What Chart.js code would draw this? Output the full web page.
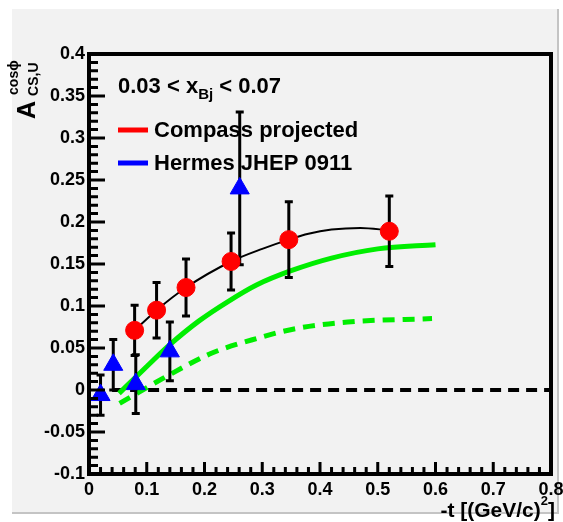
<!DOCTYPE html>
<html>
<head>
<meta charset="utf-8">
<script src="https://cdn.jsdelivr.net/npm/chart.js@4/dist/chart.umd.min.js"></script>
<style>
html, body { margin: 0; padding: 0; background: #ffffff; overflow: hidden; }
canvas { display: block; }
</style>
</head>
<body>
<canvas id="c" width="563" height="522" style="width:563px;height:522px"></canvas>
<script>
// COMPASS projection: -t [(GeV/c)^2], asymmetry, statistical error
const compassT    = [0.079, 0.117, 0.168, 0.246, 0.346, 0.520];
const compassA    = [0.071, 0.095, 0.122, 0.153, 0.179, 0.189];
const compassErr  = [0.030, 0.033, 0.034, 0.034, 0.045, 0.042];

// HERMES JHEP 0911 points
const hermesT     = [0.020, 0.042, 0.081, 0.140, 0.261];
const hermesA     = [-0.006, 0.030, 0.007, 0.046, 0.240];
const hermesErr   = [0.024, 0.030, 0.035, 0.035, 0.091];

// Fit through the COMPASS points (black curve)
const fitT        = [0.079, 0.117, 0.168, 0.246, 0.300, 0.346, 0.380, 0.420, 0.470, 0.520];
const fitA        = [0.071, 0.095, 0.122, 0.153, 0.168, 0.179, 0.186, 0.191, 0.193, 0.190];

// Model predictions (green solid and green dashed)
const modelT      = [0.052, 0.100, 0.140, 0.190, 0.240, 0.290, 0.350, 0.420, 0.500, 0.600];
const modelA      = [-0.004, 0.028, 0.054, 0.082, 0.105, 0.125, 0.142, 0.157, 0.168, 0.173];
const model2T     = [0.053, 0.139, 0.213, 0.294, 0.357, 0.448, 0.594];
const model2A     = [-0.016, 0.018, 0.044, 0.062, 0.073, 0.081, 0.085];

// Zero reference line
const zeroT       = [0.04, 0.80];
const zeroA       = [0, 0];

// Axis ticks
const xTicks      = [0, 0.1, 0.2, 0.3, 0.4, 0.5, 0.6, 0.7, 0.8];
const xTickLabels = ['0', '0.1', '0.2', '0.3', '0.4', '0.5', '0.6', '0.7', '0.8'];
const yTicks      = [-0.1, -0.05, 0, 0.05, 0.1, 0.15, 0.2, 0.25, 0.3, 0.35, 0.4];
const yTickLabels = ['-0.1', '-0.05', '0', '0.05', '0.1', '0.15', '0.2', '0.25', '0.3', '0.35', '0.4'];

const FONT = '"Liberation Sans", Arial, Helvetica, sans-serif';
const GREEN = '#00ee00';

const pts = (xs, ys) => xs.map((x, i) => ({ x: x, y: ys[i] }));

function drawErrorBars(chart, xs, ys, errs) {
  const ctx = chart.ctx;
  const sx = chart.scales.x, sy = chart.scales.y;
  ctx.save();
  ctx.strokeStyle = '#000';
  ctx.lineWidth = 3;
  ctx.lineCap = 'butt';
  xs.forEach((x, i) => {
    const px = sx.getPixelForValue(x);
    const top = sy.getPixelForValue(ys[i] + errs[i]);
    const bot = sy.getPixelForValue(ys[i] - errs[i]);
    ctx.beginPath();
    ctx.moveTo(px, top); ctx.lineTo(px, bot);
    ctx.moveTo(px - 4, top); ctx.lineTo(px + 4, top);
    ctx.moveTo(px - 4, bot); ctx.lineTo(px + 4, bot);
    ctx.stroke();
  });
  ctx.restore();
}

const decor = {
  id: 'decor',
  beforeDraw(chart) {
    const ctx = chart.ctx;
    ctx.save();
    ctx.fillStyle = '#ffffff';
    ctx.fillRect(0, 0, chart.width, chart.height);
    ctx.fillStyle = '#f2f2f2';
    ctx.fillRect(12, 9, 545, 503);
    ctx.fillStyle = '#c4c4c4';
    ctx.fillRect(557, 9, 2, 505);
    ctx.fillRect(12, 512, 547, 2);
    ctx.restore();
  },
  beforeDatasetDraw(chart, args) {
    if (args.index === 1) drawErrorBars(chart, hermesT, hermesA, hermesErr);
    if (args.index === 0) drawErrorBars(chart, compassT, compassA, compassErr);
  },
  afterDatasetsDraw(chart) {
    const ctx = chart.ctx;
    const a = chart.chartArea;
    const sx = chart.scales.x, sy = chart.scales.y;
    ctx.save();
    // frame
    ctx.strokeStyle = '#000';
    ctx.lineWidth = 4;
    ctx.strokeRect(a.left, a.top, a.right - a.left, a.bottom - a.top);
    // y tick marks (inside the frame)
    ctx.lineWidth = 3;
    ctx.beginPath();
    for (let k = 0; k <= 50; k++) {
      const v = -0.1 + k * 0.01;
      const py = sy.getPixelForValue(v);
      const len = (k % 5 === 0) ? 16 : 9;
      ctx.moveTo(a.left, py); ctx.lineTo(a.left + len, py);
    }
    // x tick marks
    for (let k = 0; k <= 40; k++) {
      const v = k * 0.02;
      const px = sx.getPixelForValue(v);
      const len = (k % 5 === 0) ? 12 : 7;
      ctx.moveTo(px, a.bottom); ctx.lineTo(px, a.bottom - len);
    }
    ctx.stroke();
    ctx.restore();
  },
  afterDraw(chart) {
    const ctx = chart.ctx;
    ctx.save();
    ctx.fillStyle = '#000';
    ctx.textBaseline = 'alphabetic';

    // kinematic range label
    let x = 118;
    ctx.font = 'bold 22px ' + FONT;
    ctx.fillText('0.03 < x', x, 93);
    x += ctx.measureText('0.03 < x').width;
    ctx.font = 'bold 15px ' + FONT;
    ctx.fillText('Bj', x, 99);
    x += ctx.measureText('Bj').width;
    ctx.font = 'bold 22px ' + FONT;
    ctx.fillText(' < 0.07', x, 93);

    // legend
    ctx.lineWidth = 5;
    ctx.strokeStyle = '#ff0000';
    ctx.beginPath(); ctx.moveTo(118, 130); ctx.lineTo(148, 130); ctx.stroke();
    ctx.strokeStyle = '#0000ff';
    ctx.beginPath(); ctx.moveTo(118, 163); ctx.lineTo(148, 163); ctx.stroke();
    ctx.font = 'bold 22px ' + FONT;
    ctx.textBaseline = 'middle';
    ctx.fillText('Compass projected', 154, 131);
    ctx.fillText('Hermes JHEP 0911', 154, 164);

    // x axis title
    ctx.textBaseline = 'alphabetic';
    const pre = '-t [(GeV/c)';
    ctx.font = 'bold 13px ' + FONT;
    const wSup = ctx.measureText('2').width;
    ctx.font = 'bold 21px ' + FONT;
    const wPre = ctx.measureText(pre).width;
    const wEnd = ctx.measureText(']').width;
    let xs = 555 - (wPre + wSup + wEnd);
    ctx.fillText(pre, xs, 517);
    xs += wPre;
    ctx.font = 'bold 13px ' + FONT;
    ctx.fillText('2', xs, 505);
    xs += wSup;
    ctx.font = 'bold 21px ' + FONT;
    ctx.fillText(']', xs, 517);

    // y axis title (rotated)
    ctx.translate(35, 119);
    ctx.rotate(-Math.PI / 2);
    ctx.font = 'bold 25px ' + FONT;
    ctx.fillText('A', 0, 0);
    const wA = ctx.measureText('A').width;
    ctx.font = 'bold 14px ' + FONT;
    ctx.fillText('cos\u03d5', wA + 6, -17);
    ctx.fillText('CS,U', wA + 5, 3);
    ctx.restore();
  }
};

const tickFont = { family: FONT, size: 18, weight: 'bold' };

new Chart(document.getElementById('c'), {
  type: 'scatter',
  data: {
    datasets: [
      { label: 'Compass projected', data: pts(compassT, compassA), showLine: false,
        pointRadius: 9, pointHoverRadius: 9, pointBackgroundColor: '#ff0000',
        pointBorderColor: '#ff0000', pointBorderWidth: 1, order: 0 },
      { label: 'Hermes JHEP 0911', data: pts(hermesT, hermesA), showLine: false,
        pointStyle: 'triangle', pointRadius: 11, pointHoverRadius: 11,
        pointBackgroundColor: '#0000ff', pointBorderColor: '#0000ff', pointBorderWidth: 1, order: 1 },
      { label: 'fit', data: pts(fitT, fitA), showLine: true, borderColor: '#000', borderWidth: 2,
        pointRadius: 0, cubicInterpolationMode: 'monotone', order: 2 },
      { label: 'model', data: pts(modelT, modelA), showLine: true, borderColor: GREEN, borderWidth: 5,
        pointRadius: 0, cubicInterpolationMode: 'monotone', order: 3 },
      { label: 'model 2', data: pts(model2T, model2A), showLine: true, borderColor: GREEN, borderWidth: 5,
        borderDash: [12, 8], pointRadius: 0, cubicInterpolationMode: 'monotone', order: 4 },
      { label: 'zero', data: pts(zeroT, zeroA), showLine: true, borderColor: '#000', borderWidth: 4,
        borderDash: [11, 7], pointRadius: 0, order: 5 }
    ]
  },
  options: {
    responsive: false,
    animation: false,
    events: [],
    layout: { padding: { top: 54, right: 8, bottom: 0, left: 0 } },
    plugins: { legend: { display: false }, tooltip: { enabled: false } },
    scales: {
      x: {
        type: 'linear', min: 0, max: 0.8,
        afterBuildTicks: s => { s.ticks = xTicks.map(v => ({ value: v })); },
        afterFit: s => { s.height = 48; s.paddingLeft = 0; s.paddingRight = 0; },
        ticks: { callback: (v, i) => xTickLabels[i], font: tickFont, color: '#000', padding: 5,
                 maxRotation: 0, autoSkip: false },
        grid: { display: false, drawTicks: false },
        border: { display: false }
      },
      y: {
        type: 'linear', min: -0.1, max: 0.4,
        afterBuildTicks: s => { s.ticks = yTicks.map(v => ({ value: v })); },
        afterFit: s => { s.width = 89; },
        ticks: { callback: (v, i) => yTickLabels[i], font: tickFont, color: '#000', padding: 4,
                 autoSkip: false },
        grid: { display: false, drawTicks: false },
        border: { display: false }
      }
    }
  },
  plugins: [decor]
});
</script>
</body>
</html>
